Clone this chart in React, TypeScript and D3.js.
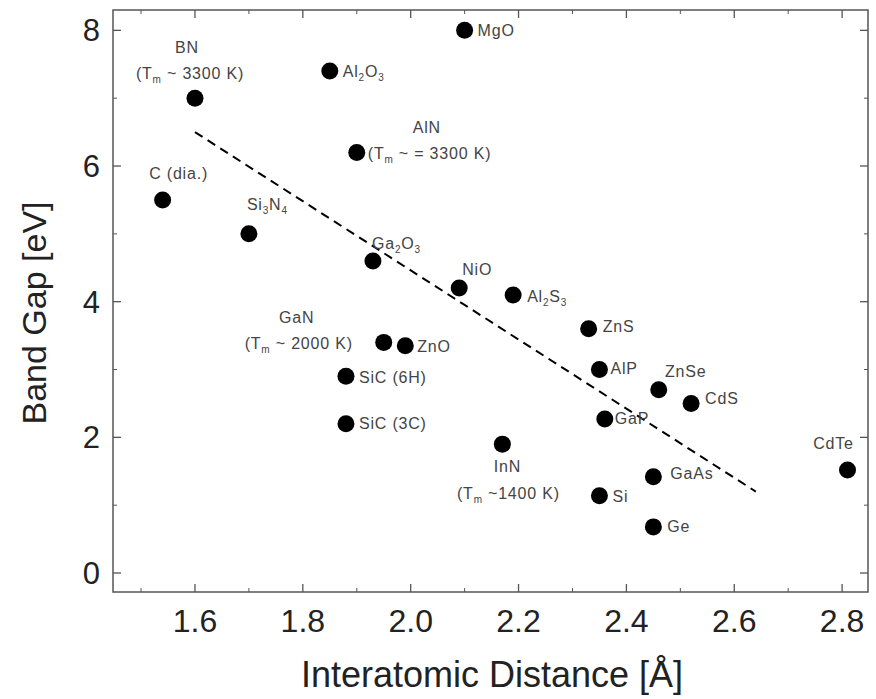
import React from "react";
import * as d3 from "d3";

// ---- data ----
const materials = ["MgO", "Al2O3", "BN", "AlN", "C (dia.)", "Si3N4", "Ga2O3", "NiO", "Al2S3", "ZnS", "GaN", "ZnO", "AlP", "SiC (6H)", "ZnSe", "CdS", "GaP", "SiC (3C)", "InN", "CdTe", "GaAs", "Si", "Ge"];
const distance = [2.10, 1.85, 1.60, 1.90, 1.54, 1.70, 1.93, 2.09, 2.19, 2.33, 1.95, 1.99, 2.35, 1.88, 2.46, 2.52, 2.36, 1.88, 2.17, 2.81, 2.45, 2.35, 2.45];
const bandGap = [8.0, 7.4, 7.0, 6.2, 5.5, 5.0, 4.6, 4.2, 4.1, 3.6, 3.4, 3.35, 3.0, 2.9, 2.7, 2.5, 2.27, 2.2, 1.9, 1.52, 1.42, 1.14, 0.68];
// label lines with _{} subscript markup
const labelLines = [
  ["MgO"],
  ["Al_{2}O_{3}"],
  ["BN", "(T_{m} ~ 3300 K)"],
  ["AlN", "(T_{m} ~ = 3300 K)"],
  ["C (dia.)"],
  ["Si_{3}N_{4}"],
  ["Ga_{2}O_{3}"],
  ["NiO"],
  ["Al_{2}S_{3}"],
  ["ZnS"],
  ["GaN", "(T_{m} ~ 2000 K)"],
  ["ZnO"],
  ["AlP"],
  ["SiC (6H)"],
  ["ZnSe"],
  ["CdS"],
  ["GaP"],
  ["SiC (3C)"],
  ["InN", "(T_{m} ~1400 K)"],
  ["CdTe"],
  ["GaAs"],
  ["Si"],
  ["Ge"],
];
const trendX = [1.6, 2.64];
const trendY = [6.5, 1.2];
const xTicks = [1.6, 1.8, 2.0, 2.2, 2.4, 2.6, 2.8];
const xMinor = [1.5, 1.7, 1.9, 2.1, 2.3, 2.5, 2.7];
const yTicks = [0, 2, 4, 6, 8];
const yMinor = [1, 3, 5, 7];

// label placement (offsets in px from point; style only)
type Pl = { dx: number; dy: number; anchor: string; dy2?: number; dx2?: number; anchor2?: string };
const placements: Pl[] = [
  { dx: 13, dy: 6, anchor: "start" },
  { dx: 13, dy: 6, anchor: "start" },
  { dx: -8, dy: -45, anchor: "middle", dx2: -5, dy2: -19 },
  { dx: 56, dy: -19, anchor: "start", dx2: 11, dy2: 7, anchor2: "start" },
  { dx: 16, dy: -21, anchor: "middle" },
  { dx: -2, dy: -24, anchor: "start" },
  { dx: -1, dy: -12, anchor: "start" },
  { dx: 3, dy: -13, anchor: "start" },
  { dx: 14, dy: 7, anchor: "start" },
  { dx: 14, dy: 3, anchor: "start" },
  { dx: -87, dy: -19, anchor: "middle", dx2: -85, dy2: 7 },
  { dx: 12, dy: 6, anchor: "start" },
  { dx: 11, dy: 4, anchor: "start" },
  { dx: 13, dy: 7, anchor: "start" },
  { dx: 27, dy: -13, anchor: "middle" },
  { dx: 14, dy: 1, anchor: "start" },
  { dx: 10, dy: 5, anchor: "start" },
  { dx: 13, dy: 5, anchor: "start" },
  { dx: 5, dy: 28, anchor: "middle", dx2: 6, dy2: 55 },
  { dx: -14, dy: -21, anchor: "middle" },
  { dx: 17, dy: 2, anchor: "start" },
  { dx: 13, dy: 6, anchor: "start" },
  { dx: 14, dy: 5, anchor: "start" },
];

function renderRich(s: string) {
  const parts: React.ReactNode[] = [];
  const re = /_\{([^}]*)\}/g;
  let last = 0;
  let m: RegExpExecArray | null;
  let k = 0;
  let inSub = false;
  while ((m = re.exec(s))) {
    if (m.index > last) {
      parts.push(<tspan key={k++} dy={inSub ? -4 : 0}>{s.slice(last, m.index)}</tspan>);
      inSub = false;
    }
    parts.push(<tspan key={k++} dy={inSub ? 0 : 4} fontSize={10}>{m[1]}</tspan>);
    inSub = true;
    last = m.index + m[0].length;
  }
  if (last < s.length) {
    parts.push(<tspan key={k++} dy={inSub ? -4 : 0}>{s.slice(last)}</tspan>);
  }
  return parts;
}

export default function App() {
  const W = 876, H = 699;
  const left = 113, right = 868, top = 10, bottom = 592;
  const x = d3.scaleLinear().domain([1.448, 2.848]).range([left, right]);
  const y = d3.scaleLinear().domain([-0.28, 8.3]).range([bottom, top]);
  const line = d3.line<number>().x((_, i) => x(trendX[i])).y((_, i) => y(trendY[i]));
  const axisColor = "#555";
  const labelColor = "#444";
  const font = "Liberation Sans, Arial, sans-serif";

  return (
    <svg width={W} height={H} style={{ position: "absolute", left: 0, top: 0, background: "#fff" }} fontFamily={font}>
      <rect x={0} y={0} width={W} height={H} fill="#fff" />
      {/* frame */}
      <rect x={left} y={top} width={right - left} height={bottom - top} fill="none" stroke={axisColor} strokeWidth={1.5} />
      {/* x ticks */}
      {xTicks.map((t) => (
        <g key={"xt" + t}>
          <line x1={x(t)} x2={x(t)} y1={bottom} y2={bottom - 8} stroke={axisColor} strokeWidth={1.3} />
          <line x1={x(t)} x2={x(t)} y1={top} y2={top + 8} stroke={axisColor} strokeWidth={1.3} />
          <text x={x(t)} y={632} textAnchor="middle" fontSize={32} fill="#222">{t.toFixed(1)}</text>
        </g>
      ))}
      {xMinor.map((t) => (
        <g key={"xm" + t}>
          <line x1={x(t)} x2={x(t)} y1={bottom} y2={bottom - 4} stroke={axisColor} strokeWidth={1} />
          <line x1={x(t)} x2={x(t)} y1={top} y2={top + 4} stroke={axisColor} strokeWidth={1} />
        </g>
      ))}
      {yTicks.map((t) => (
        <g key={"yt" + t}>
          <line x1={left} x2={left + 8} y1={y(t)} y2={y(t)} stroke={axisColor} strokeWidth={1.3} />
          <line x1={right} x2={right - 8} y1={y(t)} y2={y(t)} stroke={axisColor} strokeWidth={1.3} />
          <text x={left - 13} y={y(t) + 11} textAnchor="end" fontSize={31} fill="#222">{t}</text>
        </g>
      ))}
      {yMinor.map((t) => (
        <g key={"ym" + t}>
          <line x1={left} x2={left + 4} y1={y(t)} y2={y(t)} stroke={axisColor} strokeWidth={1} />
          <line x1={right} x2={right - 4} y1={y(t)} y2={y(t)} stroke={axisColor} strokeWidth={1} />
        </g>
      ))}
      {/* axis titles */}
      <text x={492} y={687} textAnchor="middle" fontSize={36} fill="#222">Interatomic Distance [Å]</text>
      <text transform={`translate(46, 313) rotate(-90)`} textAnchor="middle" fontSize={34} fill="#222">Band Gap [eV]</text>
      {/* trend line */}
      <path d={line(trendX) || ""} fill="none" stroke="#000" strokeWidth={2} strokeDasharray="9,6" />
      {/* points */}
      {materials.map((m, i) => (
        <circle key={"p" + m} cx={x(distance[i])} cy={y(bandGap[i])} r={8.5} fill="#000" />
      ))}
      {/* labels */}
      {materials.map((m, i) => {
        const p = placements[i];
        const px = x(distance[i]);
        const py = y(bandGap[i]);
        const lines = labelLines[i];
        return (
          <g key={"l" + m} fontSize={16} fill={labelColor} letterSpacing={0.8}>
            <text x={px + p.dx} y={py + p.dy} textAnchor={p.anchor}>{renderRich(lines[0])}</text>
            {lines[1] && (
              <text x={px + (p.dx2 ?? p.dx)} y={py + (p.dy2 ?? 0)} textAnchor={p.anchor2 ?? p.anchor}>{renderRich(lines[1])}</text>
            )}
          </g>
        );
      })}
    </svg>
  );
}
